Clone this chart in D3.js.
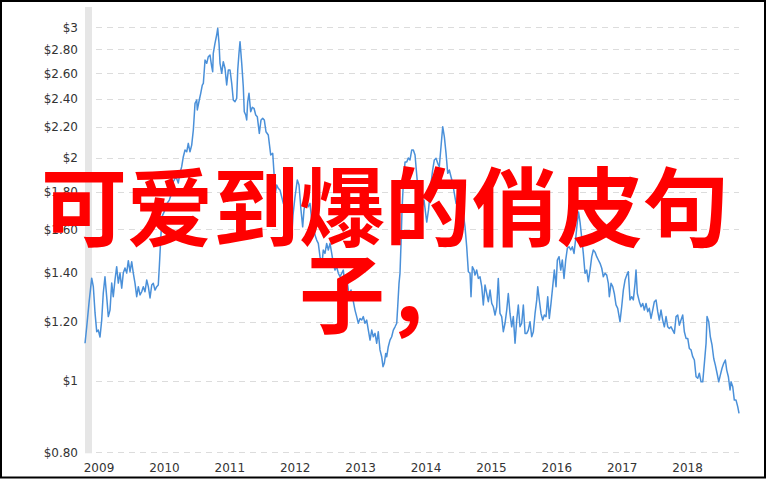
<!DOCTYPE html>
<html>
<head>
<meta charset="utf-8">
<script src="https://cdn.jsdelivr.net/npm/d3@7"></script>
<style>
  html, body { margin: 0; padding: 0; background: #fff; }
  svg { display: block; }
  .axis text { font-family: "DejaVu Sans", Verdana, sans-serif; font-size: 12px; fill: #333; }
  .axis path, .axis line { display: none; }
</style>
</head>
<body>
<svg id="chart" width="771" height="480"></svg>
<script>
// ---- data (decimal years, price in $) ----
const years = [
2009.294,2009.320,2009.355,2009.396,2009.421,2009.447,2009.473,2009.497,2009.523,2009.549,
2009.573,2009.599,2009.625,2009.650,2009.676,2009.702,2009.726,2009.752,2009.778,2009.803,
2009.829,2009.855,2009.879,2009.905,2009.931,2009.956,2009.982,2010.008,2010.032,2010.058,
2010.084,2010.109,2010.135,2010.161,2010.185,2010.211,2010.237,2010.262,2010.288,2010.314,
2010.338,2010.364,2010.390,2010.414,2010.430,2010.451,2010.471,2010.517,2010.552,2010.583,
2010.619,2010.644,2010.685,2010.720,2010.746,2010.772,2010.797,2010.823,2010.849,2010.873,
2010.899,2010.925,2010.950,2010.976,2011.002,2011.011,2011.041,2011.063,2011.087,2011.103,
2011.129,2011.155,2011.179,2011.205,2011.231,2011.246,2011.255,2011.281,2011.307,2011.323,
2011.343,2011.358,2011.384,2011.408,2011.434,2011.460,2011.485,2011.511,2011.537,2011.561,
2011.587,2011.613,2011.629,2011.648,2011.664,2011.690,2011.714,2011.729,2011.751,2011.766,
2011.781,2011.801,2011.827,2011.852,2011.878,2011.904,2011.928,2011.959,2011.985,2012.011,
2012.035,2012.061,2012.096,2012.133,2012.164,2012.184,2012.203,2012.225,2012.249,2012.275,
2012.301,2012.326,2012.352,2012.378,2012.402,2012.428,2012.454,2012.474,2012.505,2012.540,
2012.566,2012.596,2012.622,2012.642,2012.673,2012.708,2012.734,2012.760,2012.784,2012.810,
2012.836,2012.861,2012.887,2012.913,2012.937,2012.963,2012.989,2013.014,2013.040,2013.066,
2013.090,2013.116,2013.142,2013.167,2013.193,2013.243,2013.269,2013.300,2013.330,2013.361,
2013.392,2013.422,2013.448,2013.473,2013.499,2013.525,2013.549,2013.575,2013.601,2013.626,
2013.652,2013.678,2013.702,2013.728,2013.754,2013.778,2013.804,2013.830,2013.850,2013.870,
2013.892,2013.907,2013.931,2013.957,2013.983,2014.008,2014.034,2014.060,2014.075,2014.095,
2014.110,2014.126,2014.141,2014.161,2014.187,2014.213,2014.237,2014.263,2014.289,2014.314,
2014.340,2014.366,2014.393,2014.427,2014.451,2014.477,2014.519,2014.546,2014.584,2014.610,
2014.635,2014.661,2014.687,2014.711,2014.737,2014.763,2014.788,2014.814,2014.840,2014.864,
2014.890,2014.916,2014.941,2014.967,2015.002,2015.028,2015.078,2015.104,2015.130,2015.155,
2015.181,2015.196,2015.216,2015.242,2015.257,2015.283,2015.308,2015.334,2015.360,2015.384,
2015.410,2015.436,2015.461,2015.487,2015.513,2015.537,2015.563,2015.589,2015.613,2015.639,
2015.665,2015.690,2015.716,2015.742,2015.766,2015.792,2015.818,2015.843,2015.869,2015.895,
2015.919,2015.945,2015.971,2015.996,2016.022,2016.048,2016.072,2016.098,2016.124,2016.149,
2016.175,2016.201,2016.216,2016.240,2016.266,2016.292,2016.317,2016.343,2016.369,2016.393,
2016.419,2016.445,2016.470,2016.496,2016.516,2016.542,2016.568,2016.592,2016.618,2016.644,
2016.669,2016.695,2016.721,2016.745,2016.771,2016.794,2016.817,2016.840,2016.863,2016.889,
2016.913,2016.939,2016.965,2016.990,2017.016,2017.042,2017.066,2017.092,2017.118,2017.143,
2017.169,2017.195,2017.219,2017.245,2017.271,2017.296,2017.311,2017.337,2017.363,2017.387,
2017.413,2017.439,2017.474,2017.500,2017.525,2017.551,2017.577,2017.601,2017.627,2017.653,
2017.678,2017.704,2017.719,2017.739,2017.770,2017.796,2017.822,2017.846,2017.872,2017.898,
2017.922,2017.948,2017.974,2017.999,2018.025,2018.051,2018.075,2018.101,2018.127,2018.152,
2018.178,2018.204,2018.228,2018.254,2018.280,2018.305,2018.331,2018.357,2018.381,2018.407,
2018.433,2018.458,2018.484,2018.510,2018.534,2018.560,2018.586,2018.611,2018.637,2018.663,
2018.687,2018.713,2018.739,2018.764,2018.790,2018.805,2018.831,2018.855,2018.881,2018.907,
2018.932,2018.958,2018.984,2019.008,2019.034,2019.060,2019.085,2019.106,2019.131,2019.157,
2019.172,2019.198,2019.222,2019.248,2019.274,2019.294
];
const prices = [
1.123,1.182,1.273,1.375,1.339,1.234,1.164,1.170,1.145,1.207,
1.313,1.381,1.298,1.220,1.245,1.354,1.298,1.367,1.425,1.354,
1.397,1.333,1.397,1.419,1.397,1.452,1.403,1.447,1.397,1.354,
1.298,1.339,1.305,1.318,1.339,1.318,1.367,1.339,1.293,1.346,
1.353,1.325,1.339,1.346,1.425,1.548,1.665,1.700,1.737,1.753,
1.792,1.856,1.885,1.848,1.907,1.945,2.006,2.048,2.037,2.091,
2.037,2.080,2.180,2.368,2.393,2.320,2.393,2.443,2.507,2.520,
2.710,2.682,2.738,2.752,2.654,2.613,2.767,2.854,2.929,2.990,
2.854,2.682,2.600,2.696,2.641,2.507,2.627,2.627,2.520,2.393,
2.380,2.405,2.627,2.767,2.869,2.682,2.494,2.307,2.284,2.249,
2.380,2.443,2.307,2.339,2.332,2.284,2.272,2.157,2.249,2.260,
2.249,2.168,2.146,2.017,2.027,1.905,1.790,1.837,1.818,1.809,
1.771,1.735,1.717,1.691,1.665,1.597,1.564,1.673,1.771,1.866,
1.837,1.700,1.613,1.700,1.753,1.717,1.735,1.648,1.622,1.572,
1.548,1.532,1.470,1.425,1.501,1.485,1.532,1.501,1.532,1.485,
1.440,1.410,1.425,1.396,1.381,1.410,1.346,1.367,1.305,1.325,
1.285,1.245,1.220,1.195,1.213,1.207,1.220,1.195,1.207,1.170,
1.134,1.170,1.146,1.158,1.123,1.164,1.100,1.077,1.044,1.055,
1.088,1.077,1.111,1.134,1.146,1.170,1.182,1.195,1.258,1.353,
1.396,1.532,1.700,1.847,1.973,1.973,1.998,1.986,2.048,2.048,
2.017,1.895,1.781,1.726,1.717,1.753,1.637,1.700,1.847,1.925,
1.986,1.996,1.965,1.945,2.069,2.202,2.135,2.027,1.905,1.925,
1.885,1.847,1.790,1.735,1.753,1.717,1.682,1.613,1.516,1.403,
1.396,1.298,1.425,1.410,1.388,1.410,1.374,1.381,1.339,1.265,
1.346,1.311,1.278,1.325,1.271,1.258,1.226,1.258,1.374,1.232,
1.220,1.164,1.195,1.245,1.311,1.232,1.182,1.220,1.123,1.207,
1.265,1.182,1.195,1.265,1.158,1.158,1.170,1.201,1.146,1.164,
1.232,1.285,1.339,1.285,1.232,1.207,1.226,1.220,1.298,1.213,
1.271,1.339,1.410,1.339,1.455,1.470,1.410,1.455,1.374,1.455,
1.509,1.516,1.501,1.516,1.485,1.548,1.622,1.689,1.637,1.558,
1.485,1.396,1.410,1.360,1.410,1.470,1.501,1.491,1.470,1.455,
1.440,1.418,1.381,1.396,1.388,1.353,1.298,1.353,1.339,1.311,
1.265,1.252,1.201,1.258,1.325,1.367,1.388,1.403,1.285,1.298,
1.285,1.353,1.410,1.311,1.278,1.258,1.271,1.245,1.271,1.239,
1.252,1.213,1.245,1.278,1.285,1.239,1.207,1.245,1.207,1.182,
1.220,1.182,1.176,1.182,1.170,1.158,1.220,1.226,1.188,1.207,
1.226,1.164,1.140,1.140,1.105,1.100,1.077,1.066,1.012,1.007,
1.023,0.996,0.996,1.055,1.123,1.220,1.201,1.146,1.117,1.071,
1.049,1.023,0.996,1.017,1.039,1.055,1.066,1.033,1.012,0.971,
0.996,0.981,0.941,0.941,0.922,0.903
];
const yTicks = [0.8, 1, 1.2, 1.4, 1.6, 1.8, 2, 2.2, 2.4, 2.6, 2.8, 3];
const yearLabels = [2009, 2010, 2011, 2012, 2013, 2014, 2015, 2016, 2017, 2018];
const recession = [2009.294, 2009.401];
const titleLines = ["可爱到爆的俏皮句", "子，"];

// ---- layout ----
const svg = d3.select("#chart");
const plotLeft = 85, plotRight = 739, plotTop = 7;
const x = d3.scaleLinear().domain([2009, 2019]).range([65.8, 719.8]);
const y = d3.scaleLog().domain([0.8, 3]).range([452.3, 27.3]);

// frame
svg.append("rect").attr("x", 1).attr("y", 1).attr("width", 764).attr("height", 476.5)
  .attr("fill", "#fff").attr("stroke", "#000").attr("stroke-width", 2);

// grid lines
svg.append("g").selectAll("line").data(yTicks).join("line")
  .attr("x1", plotLeft).attr("x2", plotRight)
  .attr("y1", d => Math.round(y(d)) + 0.5).attr("y2", d => Math.round(y(d)) + 0.5)
  .attr("stroke", "#dcdcdc").attr("stroke-width", 1).attr("stroke-dasharray", "6,5");

// recession band
svg.append("rect")
  .attr("x", x(recession[0])).attr("width", x(recession[1]) - x(recession[0]))
  .attr("y", plotTop).attr("height", y(0.8) - plotTop + 1)
  .attr("fill", "#e6e6e6");

// axes
const fmt = v => Number.isInteger(v) ? "$" + v : "$" + v.toFixed(2);
svg.append("g").attr("class", "axis")
  .attr("transform", `translate(${plotLeft},0)`)
  .call(d3.axisLeft(y).tickValues(yTicks).tickFormat(fmt).tickSize(0).tickPadding(7));

svg.append("g").attr("class", "axis")
  .attr("transform", `translate(0,${y(0.8)})`)
  .call(d3.axisBottom(x).tickValues(yearLabels.map(d => d + 0.5))
    .tickFormat(d => String(Math.floor(d))).tickSize(0).tickPadding(11));

// line
const data = years.map((t, i) => ({ t, v: prices[i] }));
svg.append("path").datum(data)
  .attr("fill", "none").attr("stroke", "#4a90d9").attr("stroke-width", 1.5)
  .attr("stroke-linejoin", "round")
  .attr("d", d3.line().x(d => x(d.t)).y(d => y(d.v)));

// overlay title
const title = svg.append("text")
  .attr("text-anchor", "middle")
  .attr("font-family", "'Noto Sans CJK SC', 'Noto Sans CJK JP', sans-serif")
  .attr("font-weight", 700).attr("font-size", 86).attr("fill", "#ff0000");
title.selectAll("tspan").data(titleLines).join("tspan")
  .attr("x", 385).attr("y", (d, i) => 240 + i * 87).text(d => d);
</script>
</body>
</html>
